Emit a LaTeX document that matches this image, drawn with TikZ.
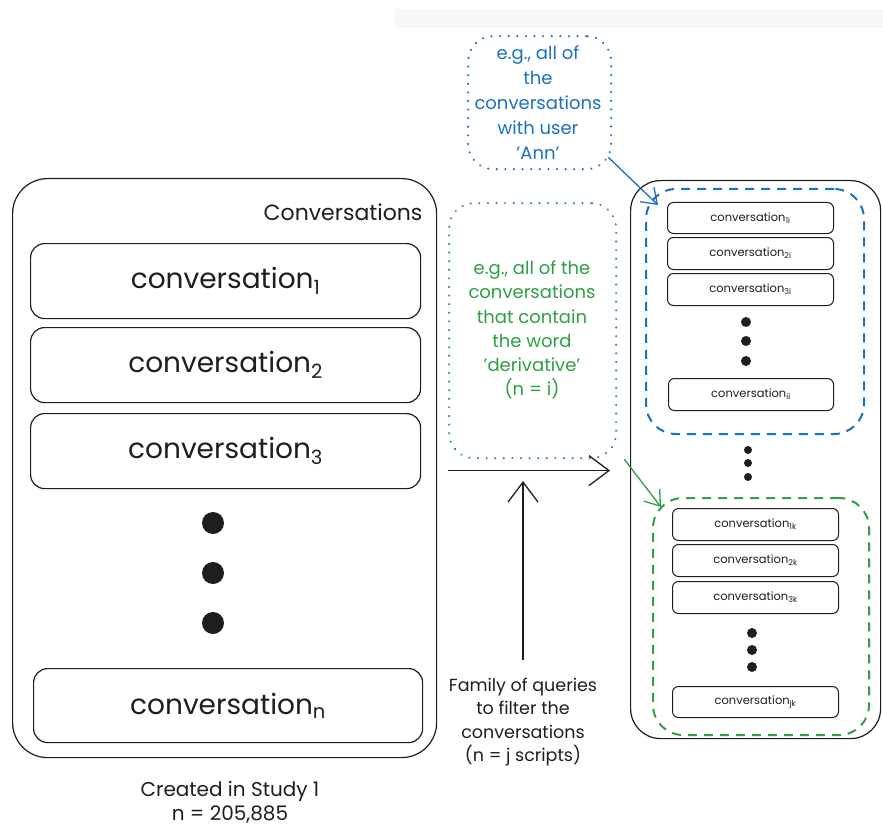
\documentclass[tikz,border=0pt]{standalone}
\usepackage{fontspec}
\setmainfont{Poppins}
\usetikzlibrary{arrows.meta,calc}

\definecolor{ink}{HTML}{1E1E1E}
\definecolor{noteblue}{HTML}{1971C2}
\definecolor{notegreen}{HTML}{2F9E44}

\tikzset{
  panel/.style={draw=ink, line width=1.2pt, anchor=north west, inner sep=0pt},
  rowbig/.style={panel, rounded corners=14pt, minimum width=390pt, minimum height=75pt,
                 font=\fontsize{28}{32}\selectfont, text=ink},
  rowsmall/.style={panel, line width=1pt, rounded corners=6pt, minimum width=166pt, minimum height=31pt,
                 font=\fontsize{11.5}{13}\selectfont, text=ink},
  bigdot/.style={circle, fill=ink, inner sep=0pt, minimum size=22pt},
  smalldot/.style={circle, fill=ink, inner sep=0pt, minimum size=10pt},
  tinydot/.style={circle, fill=ink, inner sep=0pt, minimum size=8pt},
  note/.style={anchor=north west, inner sep=0pt, rounded corners=25pt,
               line width=2.3pt, dash pattern=on 0.1pt off 8.5pt, line cap=round},
  group/.style={anchor=north west, inner sep=0pt, rounded corners=30pt,
               line width=2pt, dash pattern=on 9pt off 7pt},
  label/.style={align=center},
  bigarrow/.style={line width=1.3pt, draw=ink, -{Straight Barb[length=20pt, width=30pt, line width=1.3pt]}},
  colarrow/.style={line width=1.3pt, -{Straight Barb[length=14pt, width=20pt, line width=1.3pt]}},
}

\begin{document}
\begin{tikzpicture}[x=1pt, y=-1pt]
  % page frame
  \useasboundingbox (0,0) rectangle (883,829);
  \fill[black!3] (395,9) rectangle (883,28);

  % ---------- left: the full set of conversations ----------
  \node[panel, rounded corners=35pt, minimum width=424pt, minimum height=579pt] (convs) at (12,178) {};
  \node[anchor=east, font=\fontsize{22}{26}\selectfont, text=ink] (convtitle) at (426,212) {Conversations};

  \node[rowbig] (c1) at (30,243) {conversation\textsubscript{1}};
  \node[rowbig] (c2) at (30,327) {conversation\textsubscript{2}};
  \node[rowbig] (c3) at (30,413) {conversation\textsubscript{3}};
  \node[bigdot] (d1) at (213,523) {};
  \node[bigdot] (d2) at (213,573) {};
  \node[bigdot] (d3) at (213,623) {};
  \node[rowbig, minimum width=389pt, minimum height=74pt] (cn) at (33,668) {conversation\textsubscript{n}};

  \node[label, font=\fontsize{20}{24}\selectfont, text=ink] (study) at (230,802) {Created in Study 1\\n = 205,885};

  % ---------- middle: query notes ----------
  \node[note, draw=noteblue, minimum width=143pt, minimum height=133pt] (bluenote) at (467,35) {};
  \node[label, text=noteblue, font=\fontsize{18}{25}\selectfont] (bluetext) at (538,103)
    {e.g., all of\\the\\conversations\\with user\\'Ann'};

  \node[note, draw=notegreen, minimum width=167pt, minimum height=255pt] (greennote) at (448,202) {};
  \node[label, text=notegreen, font=\fontsize{18}{24.2}\selectfont] (greentext) at (532,330)
    {e.g., all of the\\conversations\\that contain\\the word\\'derivative'\\(n = i)};

  \node[label, text=ink, font=\fontsize{17.5}{23.5}\selectfont] (family) at (523,722)
    {Family of queries\\to filter the\\conversations\\(n = j scripts)};

  % ---------- right: filtered subsets ----------
  \node[panel, rounded corners=30pt, minimum width=250pt, minimum height=558pt] (results) at (630,180) {};

  \node[group, draw=noteblue, minimum width=218pt, minimum height=245pt] (bluegroup) at (645,188) {};
  \node[rowsmall] (b1) at (667,202) {conversation\textsubscript{1i}};
  \node[rowsmall, minimum height=32pt] (b2) at (667,237) {conversation\textsubscript{2i}};
  \node[rowsmall, minimum height=32pt] (b3) at (667,273) {conversation\textsubscript{3i}};
  \node[smalldot] (bd1) at (746,322) {};
  \node[smalldot] (bd2) at (746,341) {};
  \node[smalldot] (bd3) at (746,361) {};
  \node[rowsmall, minimum width=165pt, minimum height=32pt] (bi) at (668,378) {conversation\textsubscript{ii}};

  \node[tinydot] (md1) at (748,450) {};
  \node[tinydot] (md2) at (748,463) {};
  \node[tinydot] (md3) at (748,477) {};

  \node[group, draw=notegreen, minimum width=216pt, minimum height=237pt] (greengroup) at (652,497) {};
  \node[rowsmall, minimum height=32pt] (g1) at (672,508) {conversation\textsubscript{1k}};
  \node[rowsmall, minimum height=32pt] (g2) at (672,544) {conversation\textsubscript{2k}};
  \node[rowsmall, minimum height=32pt] (g3) at (672,581) {conversation\textsubscript{3k}};
  \node[smalldot] (gd1) at (752,633) {};
  \node[smalldot] (gd2) at (752,650) {};
  \node[smalldot] (gd3) at (752,667) {};
  \node[rowsmall] (gj) at (672,686) {conversation\textsubscript{jk}};

  % ---------- connectors ----------
  \coordinate (hit) at (523,481);
  \draw[bigarrow] ([shift={(11,2.5)}]convs.east) -- ([shift={(-20,11)}]results.west);
  \draw[bigarrow] ([yshift=14pt]family.north) -- (hit);
  \draw[colarrow, draw=noteblue] ([shift={(-4,-13)}]bluenote.south east) -- ([shift={(13,17)}]bluegroup.north west);
  \draw[colarrow, draw=notegreen] ([shift={(7,0)}]greennote.south east) -- ([shift={(9,10)}]greengroup.north west);
\end{tikzpicture}
\end{document}
